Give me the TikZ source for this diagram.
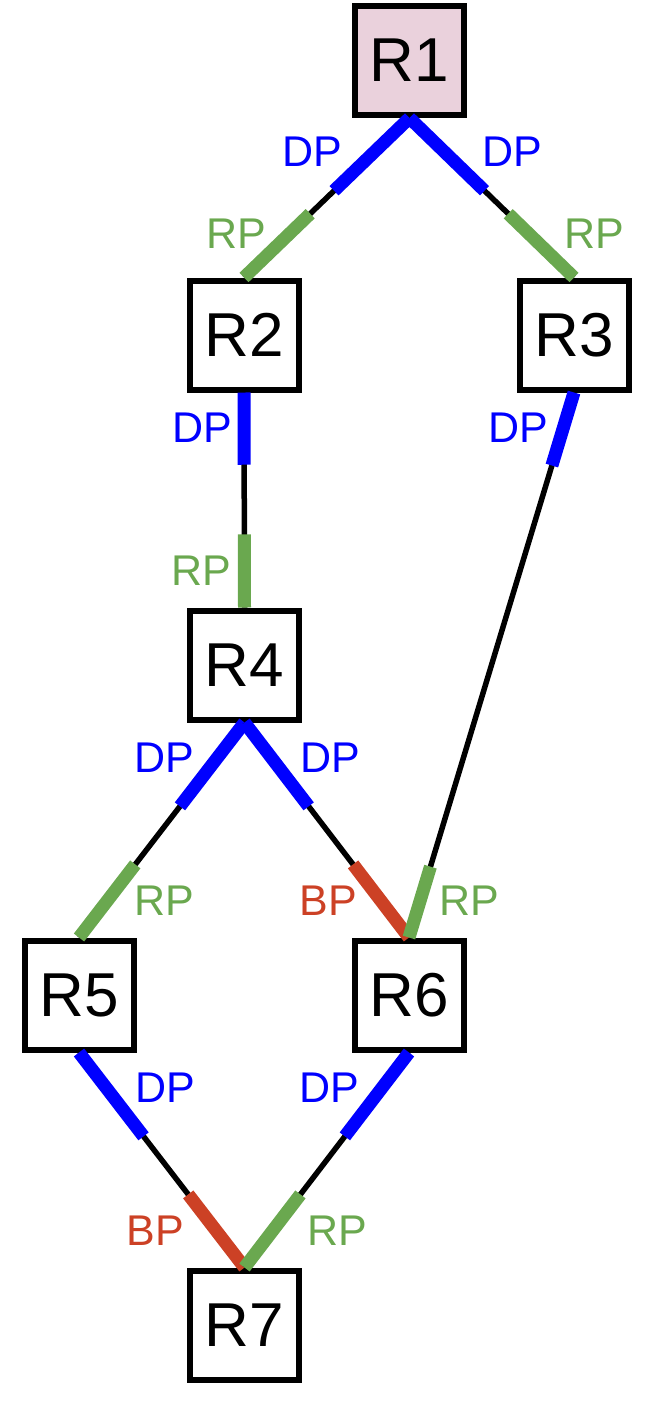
\documentclass[tikz,border=0pt]{standalone}
\usepackage{fontspec}
\setmainfont{Liberation Sans}
\usetikzlibrary{calc}
\definecolor{dpblue}{HTML}{0000FF}
\definecolor{rpgreen}{HTML}{6AA84F}
\definecolor{bpred}{HTML}{CC4125}
\definecolor{rootfill}{HTML}{EAD1DC}
\begin{document}
\begin{tikzpicture}[x=1pt,y=-1pt,
  router/.style={draw=black, line width=6pt, minimum size=109pt, inner sep=0pt,
    font=\fontsize{62}{62}\selectfont, fill=white},
  link/.style={draw=black, line width=5.5pt},
  dpseg/.style={draw=dpblue, line width=13pt},
  rpseg/.style={draw=rpgreen, line width=13pt},
  bpseg/.style={draw=bpred, line width=13pt},
  lbl/.style={font=\fontsize{43}{43}\selectfont, inner sep=0pt},
  dplbl/.style={lbl, text=dpblue},
  rplbl/.style={lbl, text=rpgreen},
  bplbl/.style={lbl, text=bpred}
]
\useasboundingbox (0,0) rectangle (655,1402);

\node[router, fill=rootfill] (R1) at (409.5,60.5) {R1};
\node[router] (R2) at (244,335) {R2};
\node[router] (R3) at (574,335) {R3};
\node[router] (R4) at (244.5,665) {R4};
\node[router] (R5) at (79,995) {R5};
\node[router] (R6) at (409,995) {R6};
\node[router] (R7) at (244.5,1325) {R7};

% R1 - R2
\draw[link] (R1.south) -- (R2.north);
\draw[dpseg] (R1.south) -- ($(R1.south)!0.456!(R2.north)$);
\draw[rpseg] ($(R1.south)!0.60!(R2.north)$) -- (R2.north);
% R1 - R3
\draw[link] (R1.south) -- (R3.north);
\draw[dpseg] (R1.south) -- ($(R1.south)!0.456!(R3.north)$);
\draw[rpseg] ($(R1.south)!0.60!(R3.north)$) -- (R3.north);
% R2 - R4
\draw[link] (R2.south) -- (R4.north);
\draw[dpseg] (R2.south) -- ($(R2.south)!0.336!(R4.north)$);
\draw[rpseg] ($(R2.south)!0.66!(R4.north)$) -- (R4.north);
% R3 - R6
\draw[link] (R3.south) -- (R6.north);
\draw[dpseg] (R3.south) -- ($(R3.south)!0.134!(R6.north)$);
% R4 - R5
\draw[link] (R4.south) -- (R5.north);
\draw[dpseg] (R4.south) -- ($(R4.south)!0.39!(R5.north)$);
\draw[rpseg] ($(R4.south)!0.66!(R5.north)$) -- (R5.north);
% R4 - R6
\draw[link] (R4.south) -- (R6.north);
\draw[dpseg] (R4.south) -- ($(R4.south)!0.39!(R6.north)$);
\draw[bpseg] ($(R4.south)!0.66!(R6.north)$) -- (R6.north);
% R3 - R6 green end (drawn over red)
\draw[rpseg] ($(R3.south)!0.87!(R6.north)$) -- (R6.north);
% R5 - R7
\draw[link] (R5.south) -- (R7.north);
\draw[dpseg] (R5.south) -- ($(R5.south)!0.39!(R7.north)$);
\draw[bpseg] ($(R5.south)!0.66!(R7.north)$) -- (R7.north);
% R6 - R7
\draw[link] (R6.south) -- (R7.north);
\draw[dpseg] (R6.south) -- ($(R6.south)!0.39!(R7.north)$);
\draw[rpseg] ($(R6.south)!0.66!(R7.north)$) -- (R7.north);

% labels
\node[dplbl] (l12d) at (312,152) {DP};
\node[rplbl] (l12r) at (236,234) {RP};
\node[dplbl] (l13d) at (512,152) {DP};
\node[rplbl] (l13r) at (594,234) {RP};
\node[dplbl] (l24d) at (202,428) {DP};
\node[rplbl] (l24r) at (201,571) {RP};
\node[dplbl] (l36d) at (518,428) {DP};
\node[rplbl] (l36r) at (469,901) {RP};
\node[dplbl] (l45d) at (164,758) {DP};
\node[rplbl] (l45r) at (164,901) {RP};
\node[dplbl] (l46d) at (330,758) {DP};
\node[bplbl] (l46b) at (328,901) {BP};
\node[dplbl] (l57d) at (165,1088) {DP};
\node[bplbl] (l57b) at (155,1231) {BP};
\node[dplbl] (l67d) at (329,1088) {DP};
\node[rplbl] (l67r) at (337,1231) {RP};
\end{tikzpicture}
\end{document}
